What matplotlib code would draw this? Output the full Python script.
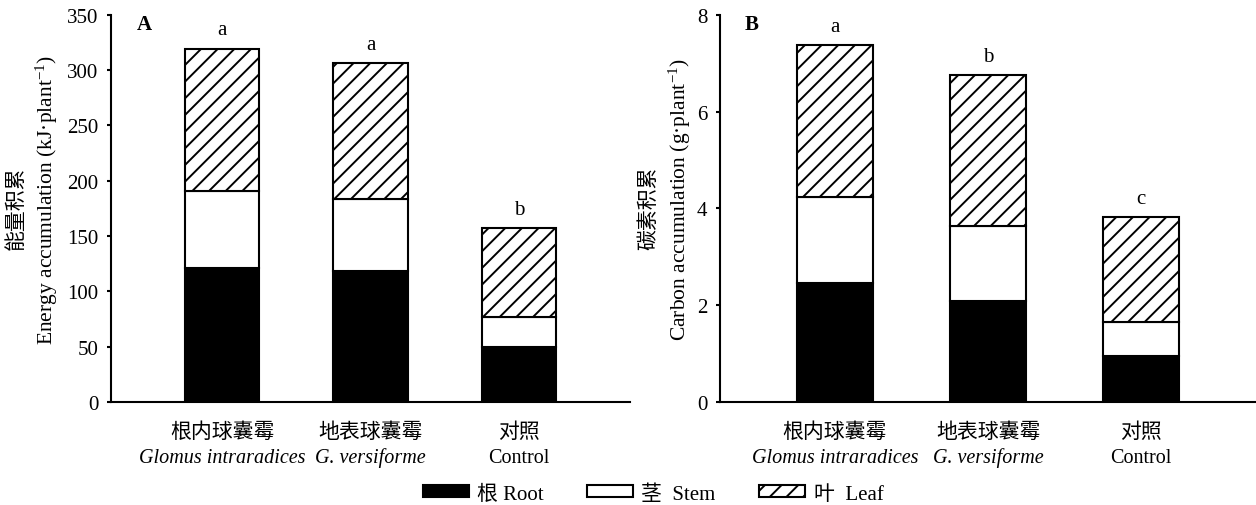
import numpy as np
import matplotlib
matplotlib.use('Agg')
import matplotlib.pyplot as plt
from matplotlib.patches import Patch

plt.rcParams['font.family'] = ['Liberation Serif', 'Noto Sans CJK SC']
plt.rcParams['mathtext.fontset'] = 'custom'
plt.rcParams['mathtext.rm'] = 'Liberation Serif'
plt.rcParams['mathtext.it'] = 'Liberation Serif:italic'
plt.rcParams['hatch.linewidth'] = 1.4

# Daten
groups_cn = ['根内球囊霉', '地表球囊霉', '对照']
groups_lat = ['Glomus intraradices', 'G. versiforme', 'Control']
lat_italic = [True, True, False]

energy_root = [121, 118, 50]
energy_stem = [70, 65, 27]
energy_leaf = [128, 123, 80]
energy_sig = ['a', 'a', 'b']

carbon_root = [2.45, 2.08, 0.95]
carbon_stem = [1.78, 1.55, 0.70]
carbon_leaf = [3.15, 3.13, 2.18]
carbon_sig = ['a', 'b', 'c']

fig = plt.figure(figsize=(12.56, 5.06), dpi=100)
axA = fig.add_axes([0.0884, 0.2036, 0.4132, 0.7654])
axB = fig.add_axes([0.5733, 0.2036, 0.4267, 0.7654])

x = np.arange(3)
fs = 15


def draw(ax, root, stem, leaf, sig, ymax, yticks, panel, panel_x, sig_off):
    kw = dict(width=0.5, edgecolor='black', linewidth=1.5)
    ax.bar(x, root, color='black', **kw)
    ax.bar(x, stem, bottom=root, color='white', **kw)
    bot = np.array(root) + np.array(stem)
    ax.bar(x, leaf, bottom=bot, color='white', hatch='//', **kw)
    tot = bot + np.array(leaf)
    for i in range(3):
        ax.annotate(sig[i], (x[i], tot[i]), xytext=(0, sig_off), textcoords='offset points',
                    ha='center', va='bottom', fontsize=fs)
    ax.set_xlim(-0.75, 2.75)
    ax.set_ylim(0, ymax)
    ax.set_yticks(yticks)
    ax.tick_params(axis='y', direction='out', length=3, width=1.5, labelsize=fs, pad=6)
    ax.set_xticks([])
    for s in ['top', 'right']:
        ax.spines[s].set_visible(False)
    for s in ['left', 'bottom']:
        ax.spines[s].set_linewidth(1.5)
    for i in range(3):
        ax.annotate(groups_cn[i], (x[i], 0), xycoords=('data', 'axes fraction'),
                    xytext=(0, -22), textcoords='offset points', ha='center', va='center',
                    fontsize=fs)
        ax.annotate(groups_lat[i], (x[i], 0), xycoords=('data', 'axes fraction'),
                    xytext=(0, -40), textcoords='offset points', ha='center', va='center',
                    fontsize=fs - 0.5, style='italic' if lat_italic[i] else 'normal')
    ax.text(panel_x, 0.975, panel, transform=ax.transAxes, fontsize=fs, fontweight='bold',
            ha='left', va='center')
    return ax


draw(axA, energy_root, energy_stem, energy_leaf, energy_sig, 350, range(0, 351, 50), 'A', 0.05, 7)
draw(axB, carbon_root, carbon_stem, carbon_leaf, carbon_sig, 8, range(0, 9, 2), 'B', 0.046, 6)

# Achsenbeschriftungen (zweizeilig)
fig.text(17 / 1256, 1 - 208 / 506, '能量积累', rotation=90, ha='center', va='center', fontsize=fs)
fig.text(47 / 1256, 1 - 200 / 506, 'Energy accumulation (kJ·plant$^{-1}$)', rotation=90,
         ha='center', va='center', fontsize=fs + 0.5)
fig.text(650 / 1256, 1 - 208 / 506, '碳素积累', rotation=90, ha='center', va='center', fontsize=fs)
fig.text(680 / 1256, 1 - 200 / 506, 'Carbon accumulation (g·plant$^{-1}$)', rotation=90,
         ha='center', va='center', fontsize=fs + 0.5)

handles = [Patch(facecolor='black', edgecolor='black', linewidth=1.5, label='根 Root'),
           Patch(facecolor='white', edgecolor='black', linewidth=1.5, label='茎  Stem'),
           Patch(facecolor='white', edgecolor='black', linewidth=1.5, hatch='//', label='叶  Leaf')]
fig.legend(handles=handles, loc='center', bbox_to_anchor=(0.52, 0.022), ncol=3, frameon=False,
           fontsize=fs, handlelength=2.2, handleheight=0.5, handletextpad=0.4,
           columnspacing=2.1, borderpad=0)

fig.savefig('out.png', dpi=100)
